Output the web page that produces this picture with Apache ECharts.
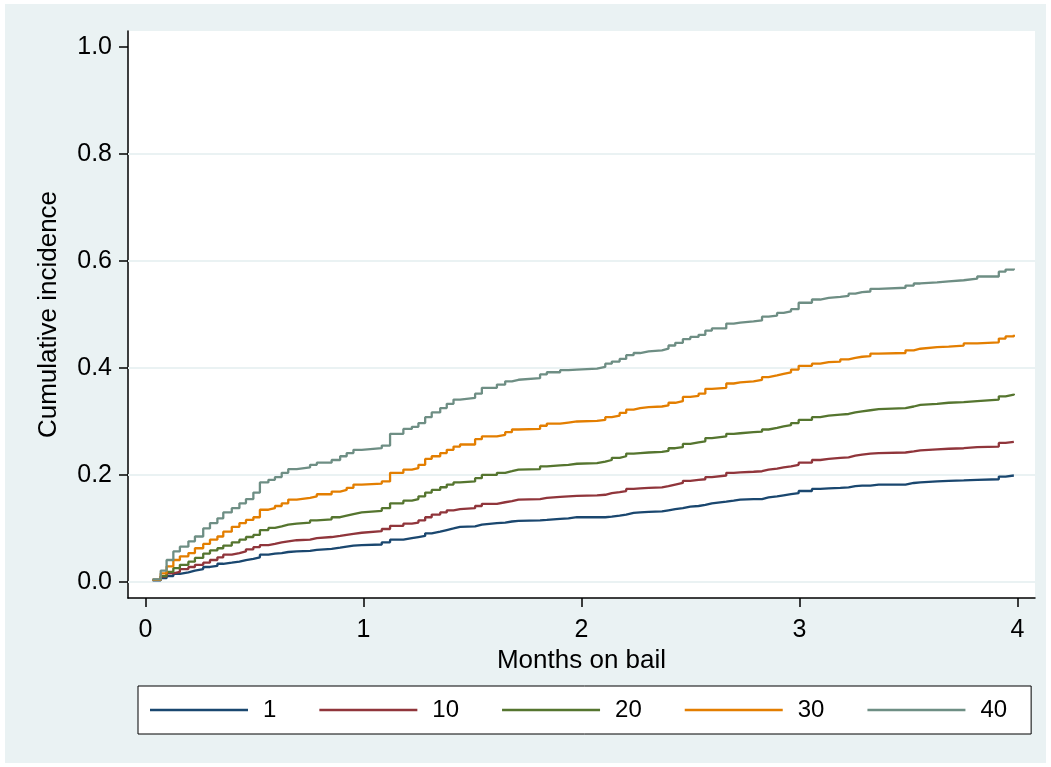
<!DOCTYPE html>
<html>
<head>
<meta charset="utf-8">
<script src="https://cdn.jsdelivr.net/npm/echarts@6/dist/echarts.min.js"></script>
<style>
html,body{margin:0;padding:0;background:#fff;}
#chart{width:1051px;height:767px;}
</style>
</head>
<body>
<div id="chart"></div>
<script>
// Event times (months on bail) at which the cumulative incidence steps
const times = [0.033, 0.070, 0.097, 0.128, 0.158, 0.197, 0.227, 0.265, 0.296, 0.330, 0.357, 0.396, 0.431, 0.461, 0.495, 0.525, 0.564, 0.594, 0.625, 0.655, 0.694, 0.755, 0.786, 0.854, 0.893, 0.923, 0.954, 0.992,
  1.084, 1.122, 1.183, 1.222, 1.252, 1.283, 1.313, 1.352, 1.382, 1.413, 1.443, 1.512, 1.543, 1.612, 1.650, 1.681, 1.711, 1.810, 1.841, 1.902, 1.940, 1.979,
  2.071, 2.109, 2.139, 2.175, 2.205, 2.239, 2.269, 2.308, 2.369, 2.399, 2.430, 2.465, 2.499, 2.537, 2.568, 2.598, 2.664, 2.698, 2.728, 2.789, 2.828, 2.858, 2.897, 2.927, 2.961, 2.996,
  3.057, 3.095, 3.134, 3.187, 3.225, 3.256, 3.287, 3.325, 3.363, 3.486, 3.524, 3.554, 3.631, 3.684, 3.753, 3.815, 3.914, 3.945, 3.983];

const cif1 = [0.003, 0.007, 0.011, 0.015, 0.018, 0.021, 0.024, 0.028, 0.030, 0.034, 0.036, 0.038, 0.041, 0.043, 0.046, 0.051, 0.053, 0.054, 0.056, 0.057, 0.058, 0.060, 0.062, 0.064, 0.066, 0.068, 0.069, 0.070,
  0.074, 0.079, 0.082, 0.084, 0.086, 0.091, 0.094, 0.097, 0.100, 0.103, 0.104, 0.107, 0.110, 0.111, 0.113, 0.114, 0.115, 0.116, 0.118, 0.119, 0.121, 0.121,
  0.121, 0.122, 0.124, 0.126, 0.129, 0.130, 0.131, 0.132, 0.134, 0.136, 0.138, 0.141, 0.142, 0.144, 0.147, 0.150, 0.152, 0.154, 0.155, 0.155, 0.158, 0.160, 0.162, 0.164, 0.166, 0.170,
  0.174, 0.175, 0.176, 0.177, 0.179, 0.180, 0.180, 0.182, 0.182, 0.185, 0.186, 0.188, 0.189, 0.190, 0.191, 0.192, 0.197, 0.199, 0.200];

const cif10 = [0.004, 0.010, 0.016, 0.019, 0.024, 0.028, 0.032, 0.036, 0.041, 0.046, 0.051, 0.054, 0.057, 0.061, 0.065, 0.069, 0.071, 0.074, 0.076, 0.078, 0.079, 0.082, 0.084, 0.086, 0.088, 0.090, 0.092, 0.095,
  0.099, 0.105, 0.109, 0.111, 0.115, 0.121, 0.126, 0.130, 0.134, 0.136, 0.138, 0.142, 0.146, 0.149, 0.151, 0.154, 0.155, 0.157, 0.159, 0.160, 0.161, 0.162,
  0.163, 0.166, 0.168, 0.170, 0.174, 0.175, 0.176, 0.177, 0.179, 0.182, 0.185, 0.189, 0.191, 0.192, 0.196, 0.199, 0.204, 0.205, 0.206, 0.207, 0.210, 0.212, 0.214, 0.216, 0.219, 0.223,
  0.228, 0.230, 0.232, 0.233, 0.236, 0.238, 0.240, 0.241, 0.242, 0.244, 0.246, 0.248, 0.249, 0.250, 0.252, 0.253, 0.260, 0.262, 0.263];

const cif20 = [0.004, 0.011, 0.019, 0.026, 0.032, 0.038, 0.045, 0.053, 0.059, 0.063, 0.068, 0.074, 0.079, 0.084, 0.088, 0.097, 0.101, 0.104, 0.107, 0.109, 0.111, 0.115, 0.117, 0.121, 0.124, 0.127, 0.130, 0.133,
  0.138, 0.147, 0.152, 0.155, 0.160, 0.167, 0.172, 0.177, 0.182, 0.186, 0.188, 0.194, 0.200, 0.204, 0.207, 0.210, 0.211, 0.216, 0.218, 0.219, 0.221, 0.222,
  0.225, 0.228, 0.232, 0.235, 0.240, 0.241, 0.242, 0.243, 0.245, 0.250, 0.252, 0.258, 0.261, 0.263, 0.269, 0.272, 0.277, 0.278, 0.280, 0.281, 0.285, 0.288, 0.291, 0.293, 0.297, 0.303,
  0.308, 0.311, 0.313, 0.314, 0.317, 0.319, 0.321, 0.323, 0.325, 0.328, 0.331, 0.333, 0.335, 0.336, 0.338, 0.341, 0.347, 0.350, 0.352];

const cif30 = [0.004, 0.016, 0.029, 0.041, 0.048, 0.054, 0.063, 0.071, 0.079, 0.085, 0.094, 0.103, 0.110, 0.116, 0.121, 0.135, 0.138, 0.142, 0.147, 0.154, 0.157, 0.160, 0.164, 0.169, 0.172, 0.176, 0.182, 0.184,
  0.188, 0.204, 0.210, 0.213, 0.219, 0.230, 0.235, 0.241, 0.247, 0.253, 0.257, 0.267, 0.272, 0.275, 0.280, 0.285, 0.286, 0.292, 0.296, 0.298, 0.300, 0.301,
  0.303, 0.308, 0.311, 0.316, 0.322, 0.325, 0.327, 0.328, 0.330, 0.335, 0.338, 0.346, 0.348, 0.352, 0.361, 0.363, 0.371, 0.373, 0.375, 0.378, 0.383, 0.386, 0.389, 0.392, 0.397, 0.404,
  0.408, 0.411, 0.412, 0.416, 0.419, 0.421, 0.422, 0.427, 0.428, 0.433, 0.436, 0.439, 0.440, 0.442, 0.446, 0.448, 0.455, 0.459, 0.462];

const cif40 = [0.005, 0.021, 0.041, 0.057, 0.066, 0.076, 0.085, 0.100, 0.110, 0.119, 0.130, 0.138, 0.147, 0.155, 0.167, 0.186, 0.191, 0.196, 0.204, 0.211, 0.214, 0.219, 0.223, 0.228, 0.235, 0.241, 0.247, 0.250,
  0.255, 0.277, 0.286, 0.290, 0.297, 0.308, 0.317, 0.325, 0.333, 0.341, 0.344, 0.352, 0.363, 0.369, 0.375, 0.378, 0.381, 0.388, 0.392, 0.396, 0.397, 0.399,
  0.402, 0.408, 0.412, 0.417, 0.424, 0.428, 0.431, 0.433, 0.436, 0.442, 0.447, 0.454, 0.458, 0.462, 0.470, 0.474, 0.483, 0.485, 0.487, 0.489, 0.496, 0.498, 0.503, 0.506, 0.510, 0.522,
  0.528, 0.531, 0.533, 0.535, 0.539, 0.542, 0.543, 0.548, 0.550, 0.554, 0.558, 0.560, 0.562, 0.564, 0.567, 0.571, 0.580, 0.584, 0.586];

const seriesNames = ['1', '10', '20', '30', '40'];
const seriesValues = [cif1, cif10, cif20, cif30, cif40];
const seriesColors = ['#1a476f', '#90353b', '#55752f', '#e37e00', '#6e8e84'];

const yTickValues = [0, 0.2, 0.4, 0.6, 0.8, 1.0];
const xTickValues = [0, 1, 2, 3, 4];
const gridLineValues = [0, 0.2, 0.4, 0.6, 0.8];

const FONT = 'Liberation Sans, Arial, sans-serif';

const chart = echarts.init(document.getElementById('chart'), null, {renderer: 'canvas'});

const series = seriesNames.map((name, k) => {
  const s = {
    name: name,
    type: 'line',
    step: 'end',
    showSymbol: false,
    symbol: 'none',
    animation: false,
    color: seriesColors[k],
    lineStyle: {color: seriesColors[k], width: 2.3},
    emphasis: {disabled: true},
    data: times.map((t, i) => [t, seriesValues[k][i]])
  };
  if (k === 0) {
    s.markLine = {
      silent: true,
      z: 1,
      animation: false,
      symbol: ['none', 'none'],
      label: {show: false},
      emphasis: {disabled: true},
      lineStyle: {color: '#eaf2f3', width: 2, type: 'solid'},
      data: gridLineValues.map(v => ({yAxis: v}))
    };
  }
  return s;
});

chart.setOption({
  animation: false,
  backgroundColor: '#ffffff',
  graphic: [{
    type: 'rect', z: -10, silent: true,
    shape: {x: 5, y: 4, width: 1041, height: 759},
    style: {fill: '#eaf2f3'}
  }],
  grid: {
    left: 128, right: 16, top: 31, bottom: 169,
    show: true, backgroundColor: '#ffffff', borderWidth: 0
  },
  xAxis: {
    type: 'value', min: -0.08, max: 4.08,
    name: 'Months on bail', nameLocation: 'middle', nameGap: 44,
    nameTextStyle: {fontFamily: FONT, fontSize: 26, color: '#000'},
    axisLine: {show: true, onZero: false, lineStyle: {color: '#000', width: 1.5}},
    axisTick: {show: true, length: 9, customValues: xTickValues, lineStyle: {color: '#000', width: 1.5}},
    axisLabel: {customValues: xTickValues, formatter: v => String(Math.round(v)), margin: 20,
      fontFamily: FONT, fontSize: 25, color: '#000'},
    splitLine: {show: false}
  },
  yAxis: {
    type: 'value', min: -0.03, max: 1.03,
    name: 'Cumulative incidence', nameLocation: 'middle', nameGap: 66, nameRotate: 90,
    nameTextStyle: {fontFamily: FONT, fontSize: 26, color: '#000'},
    axisLine: {show: true, onZero: false, lineStyle: {color: '#000', width: 1.5}},
    axisTick: {show: true, length: 9, customValues: yTickValues, lineStyle: {color: '#000', width: 1.5}},
    axisLabel: {customValues: yTickValues, formatter: v => v.toFixed(1), margin: 16,
      fontFamily: FONT, fontSize: 25, color: '#000'},
    splitLine: {show: false}
  },
  legend: {
    left: 138, top: 686,
    orient: 'horizontal',
    data: seriesNames,
    selectedMode: false,
    icon: 'path://M0,0H98V2.5H0Z',
    symbolKeepAspect: false,
    itemWidth: 98, itemHeight: 2.5,
    itemGap: 43,
    padding: [12, 24, 12, 12],
    backgroundColor: '#ffffff', borderColor: '#000', borderWidth: 1, borderRadius: 0,
    textStyle: {fontFamily: FONT, fontSize: 24, color: '#000', lineHeight: 24, padding: [0, 0, 0, 10]}
  },
  series: series
});
</script>
</body>
</html>
